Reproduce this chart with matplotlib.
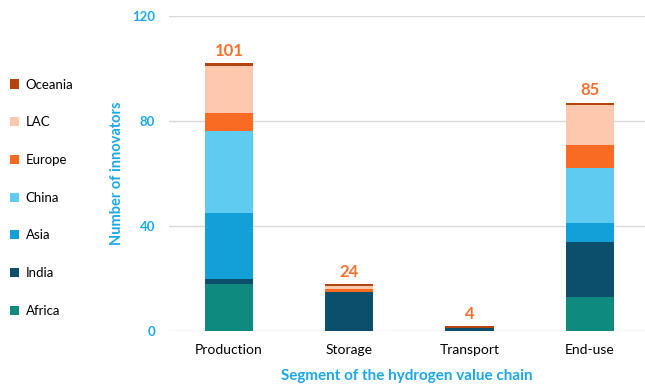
import matplotlib.pyplot as plt
from matplotlib.patches import Patch
import numpy as np

plt.rcParams['font.family'] = ['Lato', 'DejaVu Sans']

# Data (number of innovators per region and segment)
segments = ["Production", "Storage", "Transport", "End-use"]
regions = ["Africa", "India", "Asia", "China", "Europe", "LAC", "Oceania"]
africa = [18, 0, 0, 13]
india = [2, 15, 1, 21]
asia = [25, 0, 0, 7]
china = [31, 0, 0, 21]
europe = [7, 1, 0, 9]
lac = [18, 1, 0, 15]
oceania = [1, 1, 1, 1]
totals = [101, 24, 4, 85]

colors = ["#0E8A7E", "#0B4F6C", "#139FD8", "#5FCBF1", "#F96A22", "#FDC8AE", "#B5430F"]
blue = "#1AA8E8"
orange = "#F7702E"

series = [africa, india, asia, china, europe, lac, oceania]

fig = plt.figure(figsize=(6.45, 3.89), dpi=100)
ax = fig.add_axes([0.262, 0.149, 0.738, 0.81])

x = np.arange(len(segments))
bottom = np.zeros(len(segments))
for vals, name, c in zip(series, regions, colors):
    ax.bar(x, vals, width=0.4, bottom=bottom, color=c, label=name, zorder=3)
    bottom += np.array(vals)

# total labels above each bar
for xi, top, t in zip(x, bottom, totals):
    ax.annotate(str(t), xy=(xi, top), xytext=(0, 3), textcoords="offset points",
                ha="center", va="bottom", color=orange, fontsize=12, fontweight="bold")

ax.set_xlim(-0.5, 3.46)
ax.set_ylim(0, 120)
ax.set_yticks([0, 40, 80, 120])
ax.grid(axis="y", color="#D9D9D9", linewidth=1, zorder=0)
for s in ax.spines.values():
    s.set_visible(False)
ax.tick_params(axis="both", length=0)
ax.tick_params(axis="y", pad=10, labelcolor=blue, labelsize=9.5)
ax.tick_params(axis="x", pad=9, labelsize=10)
for lab in ax.get_yticklabels():
    lab.set_fontweight("bold")
ax.set_xticks(x)
ax.set_xticklabels(segments)

ax.set_ylabel("Number of innovators", color=blue, fontsize=10.5, fontweight="bold", labelpad=6)
ax.set_xlabel("Segment of the hydrogen value chain", color=blue, fontsize=11,
              fontweight="bold", labelpad=10)

handles = [Patch(facecolor=c, label=n) for n, c in zip(regions, colors)][::-1]
fig.legend(handles=handles, loc="upper left", bbox_to_anchor=(0.005, 0.815),
           frameon=False, fontsize=9.5, handlelength=0.7, handleheight=0.7,
           handletextpad=0.5, labelspacing=1.95, borderpad=0)

fig.savefig("out.png", dpi=100)
